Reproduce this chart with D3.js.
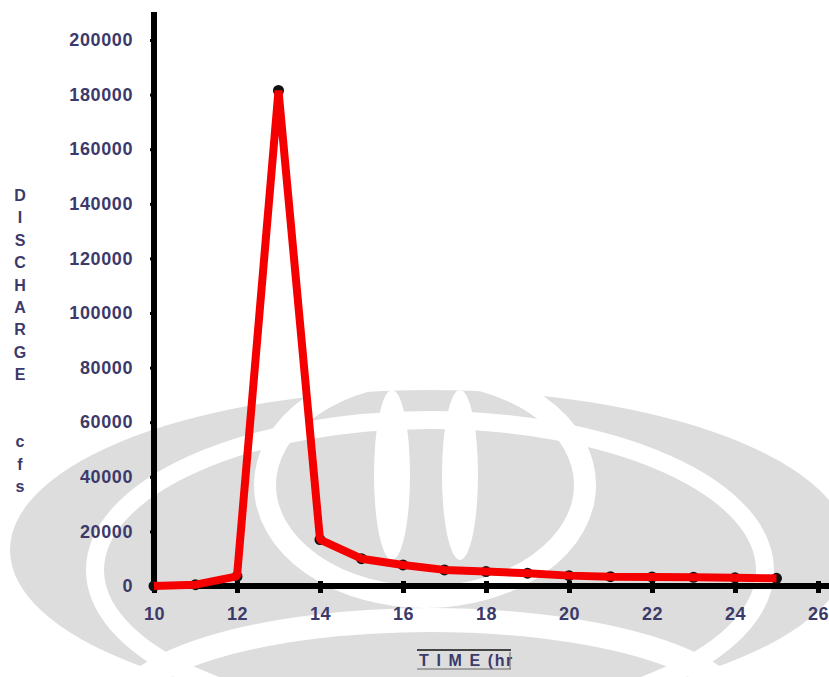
<!DOCTYPE html>
<html>
<head>
<meta charset="utf-8">
<script src="https://cdn.jsdelivr.net/npm/d3@7"></script>
<style>
  html, body { margin: 0; padding: 0; background: #fff; }
  svg text { font-family: "Liberation Sans", Arial, sans-serif; font-weight: bold; }
</style>
</head>
<body>
<div id="chart"></div>
<script>
// hydrograph readings
const hours = [10, 11, 12, 13, 14, 15, 16, 17, 18, 19, 20, 21, 22, 23, 24, 25];
const discharge = [0, 500, 3500, 181500, 17000, 10000, 7700, 5900, 5300, 4700, 3800, 3400, 3300, 3200, 3000, 2800];
const xTicks = [10, 12, 14, 16, 18, 20, 22, 24, 26];
const yTicks = [0, 20000, 40000, 60000, 80000, 100000, 120000, 140000, 160000, 180000, 200000];
const yTitle = ['D', 'I', 'S', 'C', 'H', 'A', 'R', 'G', 'E', '', '', 'c', 'f', 's'];

const width = 829, height = 677;
const labelColor = '#3b3a6a';

const svg = d3.select('#chart').append('svg')
    .attr('width', width)
    .attr('height', height);

// faint watermark in the background
const wm = svg.append('g').attr('class', 'watermark');
wm.append('ellipse').attr('cx', 430).attr('cy', 550).attr('rx', 420).attr('ry', 160).attr('fill', '#dddddd');
wm.append('ellipse').attr('cx', 430).attr('cy', 570).attr('rx', 335).attr('ry', 150)
    .attr('fill', 'none').attr('stroke', '#fff').attr('stroke-width', 18);
wm.append('ellipse').attr('cx', 425).attr('cy', 485).attr('rx', 160).attr('ry', 112)
    .attr('fill', 'none').attr('stroke', '#fff').attr('stroke-width', 22);
wm.append('ellipse').attr('cx', 392).attr('cy', 475).attr('rx', 18).attr('ry', 85).attr('fill', '#fff');
wm.append('ellipse').attr('cx', 460).attr('cy', 475).attr('rx', 18).attr('ry', 85).attr('fill', '#fff');
wm.append('ellipse').attr('cx', 430).attr('cy', 715).attr('rx', 310).attr('ry', 95)
    .attr('fill', 'none').attr('stroke', '#fff').attr('stroke-width', 24);

const x = d3.scaleLinear().domain([10, 26]).range([154, 818]);
const y = d3.scaleLinear().domain([0, 200000]).range([586, 40]);

// y axis
const yAxis = svg.append('g')
    .attr('transform', `translate(${x(10)},0)`)
    .call(d3.axisLeft(y).tickValues(yTicks).tickSize(4).tickPadding(17).tickFormat(d3.format('d')));
yAxis.select('.domain').remove();
yAxis.selectAll('.tick line').attr('stroke', '#000').attr('stroke-width', 3);
yAxis.selectAll('.tick text')
    .attr('fill', labelColor)
    .style('font-size', '18px')
    .style('letter-spacing', '0.6px');
yAxis.append('line')
    .attr('x1', 0).attr('x2', 0)
    .attr('y1', 12).attr('y2', y(0) + 3)
    .attr('stroke', '#000').attr('stroke-width', 6);

// x axis
const xAxis = svg.append('g')
    .attr('transform', `translate(0,${y(0)})`)
    .call(d3.axisBottom(x).tickValues(xTicks).tickSize(7).tickPadding(14));
xAxis.select('.domain').remove();
xAxis.selectAll('.tick line').attr('stroke', '#000').attr('stroke-width', 5).attr('y1', -5);
xAxis.selectAll('.tick text')
    .attr('fill', labelColor)
    .style('font-size', '18px')
    .style('letter-spacing', '0.6px');
xAxis.append('line')
    .attr('x1', x(10) - 3).attr('x2', width)
    .attr('y1', 0).attr('y2', 0)
    .attr('stroke', '#000').attr('stroke-width', 6);

// series
const pts = hours.map((h, i) => [h, discharge[i]]);

svg.append('g').selectAll('circle')
    .data(pts)
    .enter().append('circle')
    .attr('cx', d => x(d[0]))
    .attr('cy', d => y(d[1]))
    .attr('r', 5.5)
    .attr('fill', '#111');

svg.append('path')
    .datum(pts)
    .attr('d', d3.line().x(d => x(d[0])).y(d => y(d[1])))
    .attr('fill', 'none')
    .attr('stroke', '#f50000')
    .attr('stroke-width', 8)
    .attr('stroke-linejoin', 'bevel');

// y title, stacked letters
svg.append('g').selectAll('text')
    .data(yTitle)
    .enter().append('text')
    .attr('x', 20)
    .attr('y', (d, i) => 201 + i * 22.4)
    .attr('text-anchor', 'middle')
    .attr('fill', labelColor)
    .style('font-size', '16px')
    .text(d => d);

// x title
const xt = svg.append('g');
xt.append('text')
    .attr('x', 419)
    .attr('y', 666)
    .attr('fill', labelColor)
    .style('font-size', '16px')
    .style('letter-spacing', '1.6px')
    .text('T I M E (hr');
xt.append('line').attr('x1', 417).attr('x2', 511).attr('y1', 650).attr('y2', 650)
    .attr('stroke', '#444').attr('stroke-width', 2);
xt.append('line').attr('x1', 417).attr('x2', 511).attr('y1', 669).attr('y2', 669)
    .attr('stroke', '#666').attr('stroke-width', 1);
xt.append('line').attr('x1', 510).attr('x2', 510).attr('y1', 652).attr('y2', 669)
    .attr('stroke', '#666').attr('stroke-width', 1);
</script>
</body>
</html>
